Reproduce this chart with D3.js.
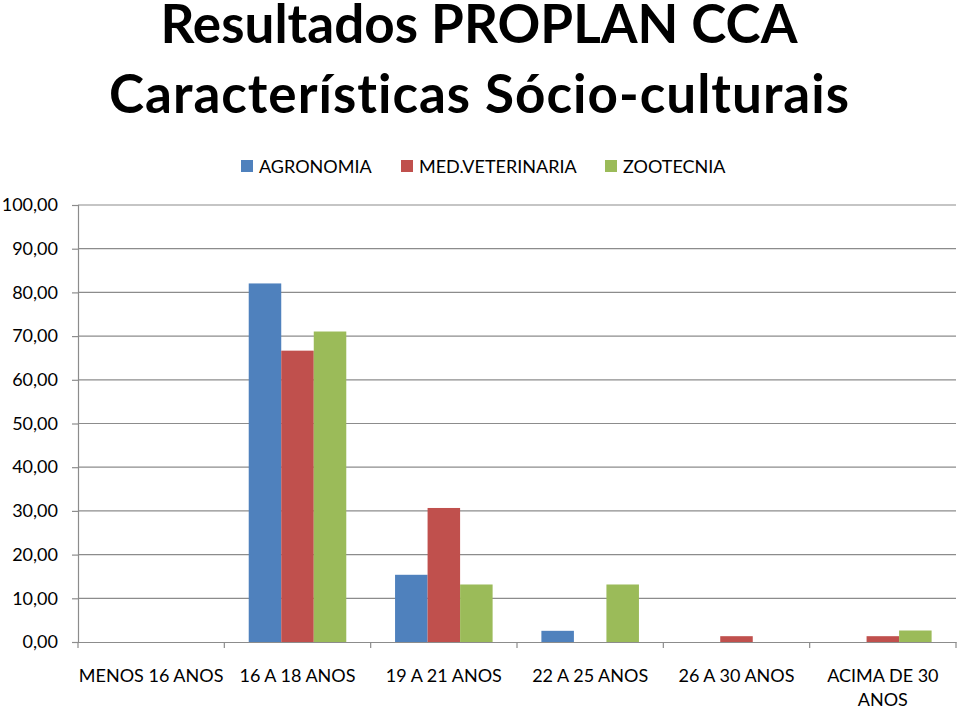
<!DOCTYPE html>
<html>
<head>
<meta charset="utf-8">
<script src="https://cdn.jsdelivr.net/npm/d3@7"></script>
<style>
  html, body { margin: 0; padding: 0; background: #fff; }
  svg { display: block; }
  text { font-variant-ligatures: none; }
</style>
</head>
<body>
<svg id="chart" width="959" height="708"></svg>
<script>
const categories = ["MENOS 16 ANOS", "16 A 18 ANOS", "19 A 21 ANOS", "22 A 25 ANOS", "26 A 30 ANOS", "ACIMA DE 30 ANOS"];
const seriesNames = ["AGRONOMIA", "MED.VETERINARIA", "ZOOTECNIA"];
const agronomia = [0, 82.05, 15.38, 2.56, 0, 0];
const medVeterinaria = [0, 66.67, 30.67, 0, 1.33, 1.33];
const zootecnia = [0, 71.05, 13.16, 13.16, 0, 2.63];
const yTicks = [0, 10, 20, 30, 40, 50, 60, 70, 80, 90, 100];
const titleLines = ["Resultados PROPLAN CCA", "Características Sócio-culturais"];
const colors = ["#4F81BD", "#C0504D", "#9BBB59"];

const seriesValues = [agronomia, medVeterinaria, zootecnia];
const svg = d3.select("#chart");
const font = "Lato, 'Open Sans', sans-serif";

const pLeft = 78, pRight = 956, pTop = 205, pBottom = 642;

const x = d3.scaleBand().domain(categories).range([pLeft, pRight]).paddingInner(0).paddingOuter(0);
const bw = x.bandwidth();
const barW = bw / 4.5;
const xs = d3.scaleBand().domain(seriesNames).range([barW * 0.75, barW * 3.75]).padding(0);
const y = d3.scaleLinear().domain([0, 100]).range([pBottom, pTop]);

// Title
const titleY = [43, 113];
const titleW = [637, 740];
titleLines.forEach((t, i) => {
  svg.append("text")
    .attr("x", 479).attr("y", titleY[i])
    .attr("text-anchor", "middle")
    .attr("textLength", titleW[i])
    .attr("lengthAdjust", "spacing")
    .style("font-family", font)
    .style("font-weight", "bold")
    .style("font-size", "53px")
    .attr("fill", "#000")
    .text(t);
});

// Gridlines
svg.append("g").selectAll("line").data(yTicks.filter(d => d > 0)).join("line")
  .attr("x1", pLeft).attr("x2", pRight)
  .attr("y1", d => y(d)).attr("y2", d => y(d))
  .attr("stroke", "#8c8c8c").attr("stroke-width", 1.2);

// Y axis
const yAxis = d3.axisLeft(y).tickValues(yTicks).tickSize(6)
  .tickFormat(d => d3.format(".2f")(d).replace(".", ","));
const gy = svg.append("g").attr("transform", `translate(${pLeft},0)`).call(yAxis);
gy.select(".domain").attr("stroke", "#8c8c8c").attr("stroke-width", 1.2);
gy.selectAll(".tick line").attr("stroke", "#8c8c8c").attr("stroke-width", 1.2);
gy.selectAll(".tick text").attr("x", -20).attr("fill", "#000")
  .style("font-family", font).style("font-size", "18px");

// Bars
const g = svg.append("g");
seriesNames.forEach((s, si) => {
  g.append("g").selectAll("rect").data(categories).join("rect")
    .attr("x", c => x(c) + xs(s))
    .attr("width", xs.bandwidth())
    .attr("y", (c, i) => y(seriesValues[si][i]))
    .attr("height", (c, i) => y(0) - y(seriesValues[si][i]))
    .attr("fill", colors[si]);
});

// X axis
const xAxis = d3.axisBottom(x).tickSize(0).tickFormat("");
const gx = svg.append("g").attr("transform", `translate(0,${pBottom})`).call(xAxis);
gx.select(".domain").attr("stroke", "#8c8c8c").attr("stroke-width", 1.2);
const bounds = categories.map(c => x(c)).concat([pRight]);
svg.append("g").selectAll("line").data(bounds).join("line")
  .attr("x1", d => d).attr("x2", d => d)
  .attr("y1", pBottom).attr("y2", pBottom + 6)
  .attr("stroke", "#8c8c8c").attr("stroke-width", 1.2);

// Category labels
const labelLines = {"ACIMA DE 30 ANOS": ["ACIMA DE 30", "ANOS"]};
categories.forEach(c => {
  const lines = labelLines[c] || [c];
  lines.forEach((ln, li) => {
    svg.append("text")
      .attr("x", x(c) + bw / 2)
      .attr("y", 682 + li * 24)
      .attr("text-anchor", "middle")
      .style("font-family", font).style("font-size", "18px")
      .attr("fill", "#000")
      .text(ln);
  });
});

// Legend
const legendX = [241, 401, 605];
seriesNames.forEach((s, i) => {
  svg.append("rect").attr("x", legendX[i]).attr("y", 160).attr("width", 12).attr("height", 12).attr("fill", colors[i]);
  svg.append("text").attr("x", legendX[i] + 18).attr("y", 172.5)
    .style("font-family", font).style("font-size", "18px").attr("fill", "#000").text(s);
});
</script>
</body>
</html>
